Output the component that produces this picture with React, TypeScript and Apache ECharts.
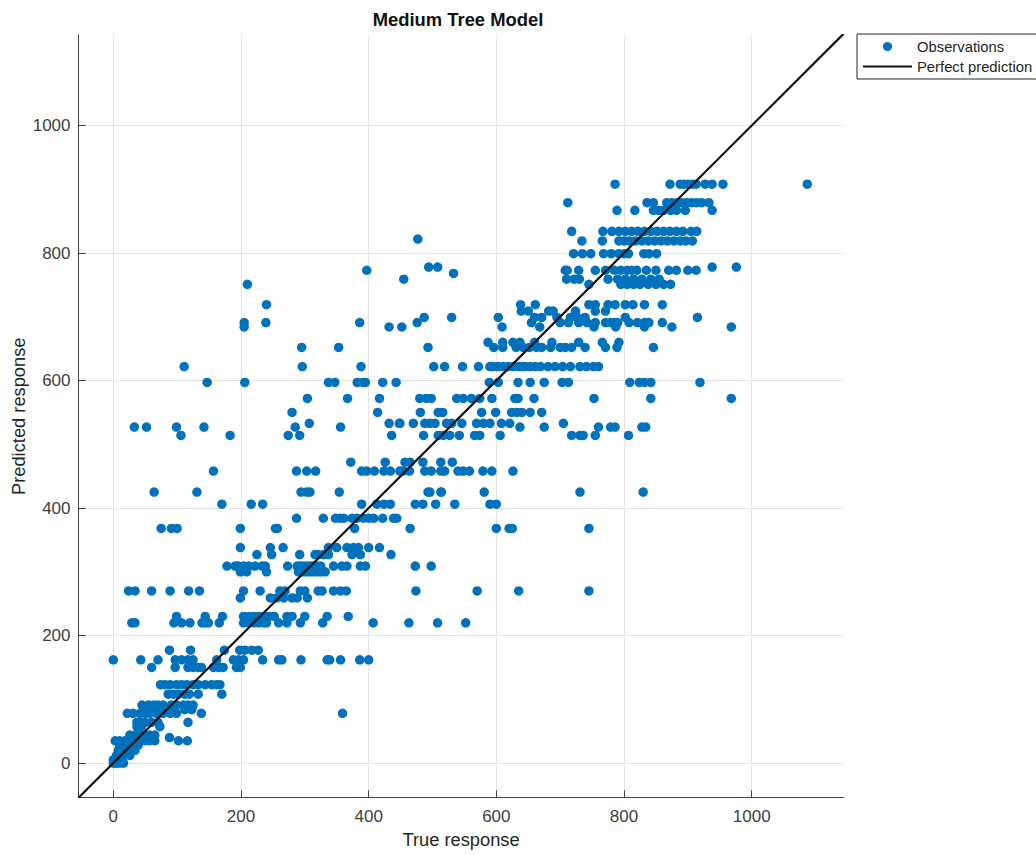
import React, { useEffect, useRef } from "react";
import * as echarts from "echarts";

const xMin = -54.5, xMax = 1143.8, yMin = -54, yMax = 1142;
const tickValues = [0, 200, 400, 600, 800, 1000];

const row0 = [0, 2, 6, 10, 16];
const row5 = [0, 3, 8, 13];
const row12 = [5, 10, 18, 26];
const row20 = [8, 13, 21, 29, 34];
const row28 = [10, 16, 23, 31, 39];
const row35 = [3, 10, 18, 26, 34, 42, 50, 57, 65, 102, 116];
const row40 = [88];
const row44 = [26, 34, 42, 50, 57, 65];
const row57 = [37, 44, 73];
const row64 = [37, 42, 50, 60, 70, 117];
const row78 = [22, 31, 42, 50, 57, 68, 78, 89, 99, 138, 359];
const row84 = [60, 70, 81, 94, 112, 123];
const row91 = [45, 55, 63, 70, 78, 91, 99, 110, 117, 125];
const row108 = [86, 94, 102, 112, 119, 133, 170];
const row123 = [74, 81, 89, 99, 107, 115, 125, 133, 144, 154, 162, 167];
const row150 = [60, 97, 117, 125, 133, 138, 157, 165, 172, 193, 199];
const row162 = [0, 43, 70, 97, 107, 117, 125, 162, 188, 196, 204, 234, 259, 264, 294, 335, 339, 356, 386, 400];
const row177 = [88, 121, 174, 198, 206, 217, 227];
const row220 = [29, 34, 95, 107, 120, 139, 144, 149, 166, 204, 212, 220, 228, 236, 240, 259, 272, 293, 328, 407, 463, 508, 552];
const row230 = [99, 144, 171, 204, 212, 220, 228, 236, 244, 252, 272, 280, 300, 335, 368];
const row259 = [199, 246, 256, 267, 280, 288, 304];
const row270 = [24, 34, 60, 89, 118, 135, 204, 230, 261, 269, 293, 300, 321, 327, 345, 356, 365, 474, 570, 635, 745];
const row300 = [199, 209, 240, 290, 296, 302, 308, 314, 320, 326, 332];
const row309 = [178, 191, 196, 204, 212, 222, 233, 238, 273, 288, 293, 298, 304, 309, 314, 320, 325, 345, 358, 366, 387, 395, 473, 498];
const row327 = [225, 248, 292, 316, 321, 329, 337, 374, 387, 435];
const row338 = [199, 246, 266, 337, 350, 366, 376, 384, 400, 417];
const row368 = [75, 91, 100, 199, 254, 257, 378, 465, 600, 620, 625, 745];
const row384 = [287, 329, 348, 355, 361, 374, 382, 392, 400, 408, 422, 439, 444];
const row406 = [170, 216, 234, 389, 413, 424, 434, 473, 485, 505, 535, 590, 600];
const row425 = [64, 131, 294, 303, 308, 354, 493, 496, 514, 513, 581, 731, 830];
const row458 = [157, 287, 303, 317, 389, 397, 409, 424, 434, 449, 454, 464, 488, 498, 513, 519, 540, 548, 558, 579, 593, 626];
const row472 = [372, 426, 457, 465, 485, 513, 531];
const row514 = [106, 183, 274, 292, 436, 486, 509, 517, 527, 542, 566, 574, 606, 718, 731, 736, 755, 807];
const row527 = [33, 52, 99, 142, 285, 356, 637, 675, 760, 779, 786, 828, 834];
const row533 = [307, 432, 448, 449, 470, 488, 496, 504, 522, 530, 546, 569, 580, 590, 608, 621, 705];
const row550 = [280, 414, 481, 509, 516, 577, 599, 624, 632, 640, 653, 671];
const row572 = [304, 367, 417, 480, 490, 498, 538, 548, 561, 574, 593, 629, 634, 659, 753, 842, 968];
const row597 = [147, 206, 337, 347, 382, 391, 395, 422, 443, 589, 603, 634, 653, 675, 703, 713, 809, 824, 832, 842, 919];
const row622 = [111, 296, 388, 502, 519, 547, 572, 590, 595, 603, 611, 619, 627, 635, 640, 645, 653, 661, 669, 681, 692, 704, 716, 731, 741, 752, 760];
const row652 = [295, 353, 493, 596, 610, 631, 642, 652, 663, 671, 685, 700, 708, 718, 739, 771, 789, 846];
const row660 = [587, 610, 626, 637, 660, 687, 729, 766, 792];
const row684 = [205, 432, 452, 609, 668, 753, 787, 832, 875, 968];
const row691 = [205, 239, 386, 476, 655, 700, 713, 729, 742, 755, 771, 779, 785, 790, 808, 821, 832, 839, 860];
const row699 = [487, 530, 603, 660, 671, 695, 716, 727, 739, 802, 915];
const row709 = [639, 650, 682, 689, 724, 755, 771];
const row719 = [240, 638, 661, 745, 755, 775, 786, 802, 814, 832, 860];
const row751 = [210, 745, 795, 805, 815, 825, 838, 850, 862, 873];
const row759 = [455, 710, 722, 730, 775, 790, 802, 815, 828, 842, 855];
const row773 = [397, 708, 711, 729, 755, 771, 785, 795, 805, 812, 820, 835, 850, 870, 882, 900, 913];
const row778 = [494, 508, 938, 976];
const row768 = [533];
const row799 = [721, 735, 748, 768, 780, 792, 800, 807, 831, 839, 851];
const row819 = [734, 766, 792, 800, 808, 818, 828, 838, 848, 858, 868, 878, 888, 897, 907];
const row822 = [477];
const row834 = [718, 767, 781, 792, 802, 812, 822, 832, 842, 852, 862, 872, 882, 892, 905, 914];
const row867 = [789, 817, 846, 854, 862, 873, 882, 896, 938];
const row879 = [712, 836, 846, 867, 875, 883, 890, 898, 906, 914, 922, 933];
const row908 = [786, 872, 888, 894, 900, 907, 913, 927, 938, 955, 1087];

const rows: [number, number[]][] = [
  [0, row0], [5, row5], [12, row12], [20, row20], [28, row28], [35, row35], [40, row40], [44, row44],
  [57, row57], [64, row64], [78, row78], [84, row84], [91, row91], [108, row108], [123, row123],
  [150, row150], [162, row162], [177, row177], [220, row220], [230, row230], [259, row259], [270, row270],
  [300, row300], [309, row309], [327, row327], [338, row338], [368, row368], [384, row384], [406, row406],
  [425, row425], [458, row458], [472, row472], [514, row514], [527, row527], [533, row533], [550, row550],
  [572, row572], [597, row597], [622, row622], [652, row652], [660, row660], [684, row684], [691, row691],
  [699, row699], [709, row709], [719, row719], [751, row751], [759, row759], [768, row768], [773, row773],
  [778, row778], [799, row799], [819, row819], [822, row822], [834, row834], [867, row867], [879, row879],
  [908, row908],
];
const observations = rows.flatMap(([y, xs]) => xs.map((x) => [x, y]));
const perfect = [[xMin, xMin], [xMax, xMax]];

const FONT = "'Liberation Sans', Arial, sans-serif";

function axis(min: number, max: number, name: string, nameGap: number, margin: number) {
  return {
    type: "value",
    min,
    max,
    name,
    nameLocation: "middle",
    nameGap,
    nameMoveOverlap: false,
    nameTextStyle: { color: "#262626", fontSize: 18.3, fontFamily: FONT },
    axisLine: { show: true, onZero: false, lineStyle: { color: "#404040", width: 1 } },
    axisTick: { show: true, inside: true, length: 7, customValues: tickValues, lineStyle: { color: "#404040", width: 1 } },
    axisLabel: {
      show: true,
      customValues: tickValues,
      color: "#404040",
      fontSize: 17,
      fontFamily: FONT,
      margin,
      formatter: (v: number) => String(v),
    },
    splitLine: { show: true, lineStyle: { color: "#e4e4e4", width: 1 } },
  };
}

export default function App() {
  const ref = useRef<HTMLDivElement>(null);
  useEffect(() => {
    const chart = echarts.init(ref.current!, undefined, { renderer: "svg" });
    chart.setOption({
      animation: false,
      backgroundColor: "#ffffff",
      title: {
        text: "Medium Tree Model",
        left: 453,
        top: 5,
        textAlign: "center",
        textStyle: { color: "#111111", fontSize: 18.4, fontWeight: "bold", fontFamily: FONT },
      },
      grid: { left: 78.5, right: 192.5, top: 35, bottom: 57.5, outerBoundsMode: "none" },
      xAxis: axis(xMin, xMax, "True response", 33, 10),
      yAxis: axis(yMin, yMax, "Predicted response", 51, 8),
      legend: {
        orient: "vertical",
        left: 857,
        top: 34,
        padding: [5, 5, 5, 5],
        itemGap: 5,
        itemWidth: 49,
        itemHeight: 9,
        borderColor: "#262626",
        borderWidth: 1,
        backgroundColor: "#ffffff",
        textStyle: { color: "#262626", fontSize: 14.8, fontFamily: FONT },
        data: [
          { name: "Observations", icon: "circle" },
          { name: "Perfect prediction", itemStyle: { opacity: 0 } },
        ],
      },
      series: [
        {
          name: "Observations",
          type: "scatter",
          data: observations,
          symbol: "circle",
          symbolSize: 9.5,
          itemStyle: { color: "#0072BD", opacity: 1 },
          z: 2,
        },
        {
          name: "Perfect prediction",
          type: "line",
          data: perfect,
          showSymbol: false,
          symbol: "none",
          lineStyle: { color: "#111111", width: 2.2 },
          itemStyle: { color: "#111111" },
          z: 3,
        },
      ],
    });
    return () => chart.dispose();
  }, []);
  return <div ref={ref} style={{ position: "absolute", left: 0, top: 0, width: 1036, height: 855 }} />;
}
